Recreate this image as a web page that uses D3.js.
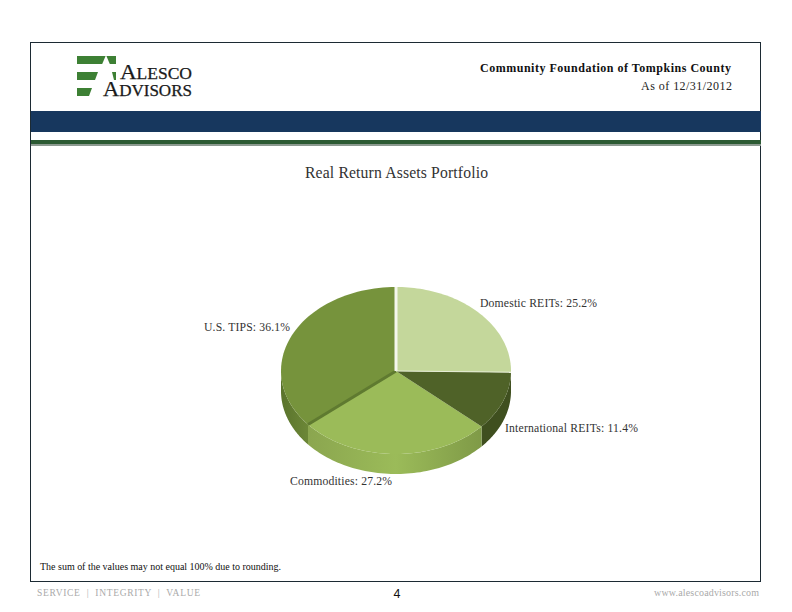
<!DOCTYPE html>
<html>
<head>
<meta charset="utf-8">
<script src="https://cdn.jsdelivr.net/npm/d3@7/dist/d3.min.js"></script>
<style>
html,body{margin:0;padding:0;background:#fff;}
svg{display:block;}
text{font-family:"Liberation Serif","Times New Roman",serif;}
</style>
</head>
<body>
<svg id="c" width="792" height="612"></svg>
<script>
const categories = ["Domestic REITs", "International REITs", "Commodities", "U.S. TIPS"];
const values = [25.2, 11.4, 27.2, 36.1];
const topColors = ["#c4d79b", "#4f6228", "#9bbb59", "#76933c"];
const sideColors = ["#a9bd80", "#3f4f1f", "#8aa84f", "#617b30"];
const chartTitle = "Real Return Assets Portfolio";
const headerLines = ["Community Foundation of Tompkins County", "As of 12/31/2012"];
const footnote = "The sum of the values may not equal 100% due to rounding.";

const svg = d3.select("#c");
const defs = svg.append("defs");

/* page frame */
svg.append("rect").attr("x",30.5).attr("y",42.5).attr("width",730).attr("height",539)
   .attr("fill","#fff").attr("stroke","#1c2a33").attr("stroke-width",1);
svg.append("rect").attr("x",31).attr("y",111).attr("width",730).attr("height",21).attr("fill","#17375e");
svg.append("rect").attr("x",31).attr("y",140).attr("width",730).attr("height",4).attr("fill","#2c5a33");
svg.append("rect").attr("x",31).attr("y",144).attr("width",730).attr("height",2).attr("fill","#8c9a90");

/* logo */
const logo = svg.append("g");
const green = "#3d8034";
logo.append("path").attr("fill",green).attr("d","M77,56H116V64H77Z");
logo.append("path").attr("fill",green).attr("d","M77,72H98L95,80H77Z");
logo.append("path").attr("fill",green).attr("d","M77,88H92L89,96H77Z");
logo.append("path").attr("fill",green).attr("d","M112,72H116V80H114Z");
logo.append("path").attr("fill","#fff").attr("d","M106,55L110,64.5L102,64.5Z");
function logoWord(x,y,len,big,rest){
  const t = logo.append("text").attr("x",x).attr("y",y).attr("fill","#1a1a1a")
    .attr("stroke","#1a1a1a").attr("stroke-width",0.25)
    .attr("textLength",len).attr("lengthAdjust","spacingAndGlyphs");
  t.append("tspan").attr("font-size",21).text(big);
  t.append("tspan").attr("font-size",16).text(rest);
}
logoWord(120,79,72,"A","LESCO");
logoWord(103,96,89,"A","DVISORS");

/* header */
svg.append("text").attr("x",731).attr("y",72).attr("text-anchor","end")
  .attr("font-size",12).attr("font-weight","bold").attr("textLength",251).attr("fill","#111").text(headerLines[0]);
svg.append("text").attr("x",732).attr("y",90).attr("text-anchor","end")
  .attr("font-size",12).attr("textLength",91).attr("fill","#222").text(headerLines[1]);

/* title */
svg.append("text").attr("x",396.5).attr("y",178).attr("text-anchor","middle")
  .attr("font-size",15.7).attr("textLength",183).attr("fill","#333").text(chartTitle);

/* pie */
const pieData = d3.pie().sort(null).value(d=>d)(values);
const x = d3.scaleLinear().domain([-1,1]).range([281,511]);
const y = d3.scaleLinear().domain([-1,0,1]).range([287,371,454]);
const depth = 20;
const px = a => x(Math.sin(a));
const py = a => y(-Math.cos(a));
const arcAngles = (a0,a1) => d3.range(0,61).map(i => a0+(a1-a0)*i/60);

/* side walls: only the front half of the ellipse is visible */
const wall = d3.area().x(a=>px(a)).y0(a=>py(a)).y1(a=>py(a)+depth);

const grad = defs.append("linearGradient").attr("id","sideGrad")
  .attr("gradientUnits","userSpaceOnUse").attr("x1",309).attr("x2",482).attr("y1",0).attr("y2",0);
grad.selectAll("stop").data([[0,"#8ba64f"],[0.5,"#9bbb59"],[1,"#7f9a47"]]).enter().append("stop")
  .attr("offset",d=>d[0]).attr("stop-color",d=>d[1]);

const gradT = defs.append("linearGradient").attr("id","tipsGrad")
  .attr("gradientUnits","userSpaceOnUse").attr("x1",281).attr("x2",309).attr("y1",0).attr("y2",0);
gradT.selectAll("stop").data([[0,"#5a732c"],[1,"#6d8838"]]).enter().append("stop")
  .attr("offset",d=>d[0]).attr("stop-color",d=>d[1]);

svg.append("g").selectAll("path")
  .data(pieData.filter(d => d.endAngle > Math.PI/2 && d.startAngle < 3*Math.PI/2))
  .enter().append("path")
  .attr("d", d => wall(arcAngles(Math.max(d.startAngle,Math.PI/2), Math.min(d.endAngle,3*Math.PI/2))))
  .attr("fill", d => d.index===2 ? "url(#sideGrad)" : d.index===3 ? "url(#tipsGrad)" : sideColors[d.index]);

/* top faces */
const face = d => {
  const pts = arcAngles(d.startAngle,d.endAngle).map(a=>[px(a),py(a)]);
  return d3.line()([[x(0),y(0)],...pts]) + "Z";
};
const drawOrder = [3,2,1,0];
svg.append("g").selectAll("path")
  .data(drawOrder.map(i=>pieData[i])).enter().append("path")
  .attr("d",face).attr("fill",d=>topColors[d.index]);

/* seam between TIPS and Commodities, white edges of the Domestic slice */
const tipsStart = pieData[3].startAngle;
svg.append("line").attr("x1",x(0)).attr("y1",y(0)).attr("x2",px(tipsStart)).attr("y2",py(tipsStart))
  .attr("stroke","#5f7a30").attr("stroke-width",3);
svg.append("line").attr("x1",x(0)).attr("y1",y(-1)).attr("x2",x(0)).attr("y2",y(0))
  .attr("stroke","#f4f7ec").attr("stroke-width",3);
svg.append("line").attr("x1",x(0)).attr("y1",y(0)).attr("x2",px(pieData[0].endAngle)).attr("y2",py(pieData[0].endAngle))
  .attr("stroke","#e6edd6").attr("stroke-width",1);

/* labels */
const labelLayout = [
  {x:480, y:307, len:117},
  {x:505, y:432, len:133},
  {x:290, y:485, len:102},
  {x:204, y:331, len:86}
];
svg.append("g").selectAll("text").data(pieData).enter().append("text")
  .attr("x",d=>labelLayout[d.index].x).attr("y",d=>labelLayout[d.index].y)
  .attr("textLength",d=>labelLayout[d.index].len)
  .attr("font-size",11.7).attr("fill","#333")
  .text(d=>`${categories[d.index]}: ${d3.format(".1f")(d.value)}%`);

/* footnote and footer */
svg.append("text").attr("x",40).attr("y",570).attr("font-size",10).attr("textLength",241).attr("fill","#111").text(footnote);
svg.append("text").attr("x",37).attr("y",596).attr("font-size",9.5).attr("textLength",163).attr("fill","#aaa").attr("xml:space","preserve").text("SERVICE  |  INTEGRITY  |  VALUE");
svg.append("text").attr("x",397).attr("y",598).attr("text-anchor","middle").attr("font-size",12.5).attr("fill","#111")
  .style("font-family","'Liberation Sans',Arial,sans-serif").text("4");
svg.append("text").attr("x",759).attr("y",596).attr("text-anchor","end").attr("font-size",10).attr("textLength",105).attr("fill","#aaa").text("www.alescoadvisors.com");
</script>
</body>
</html>
